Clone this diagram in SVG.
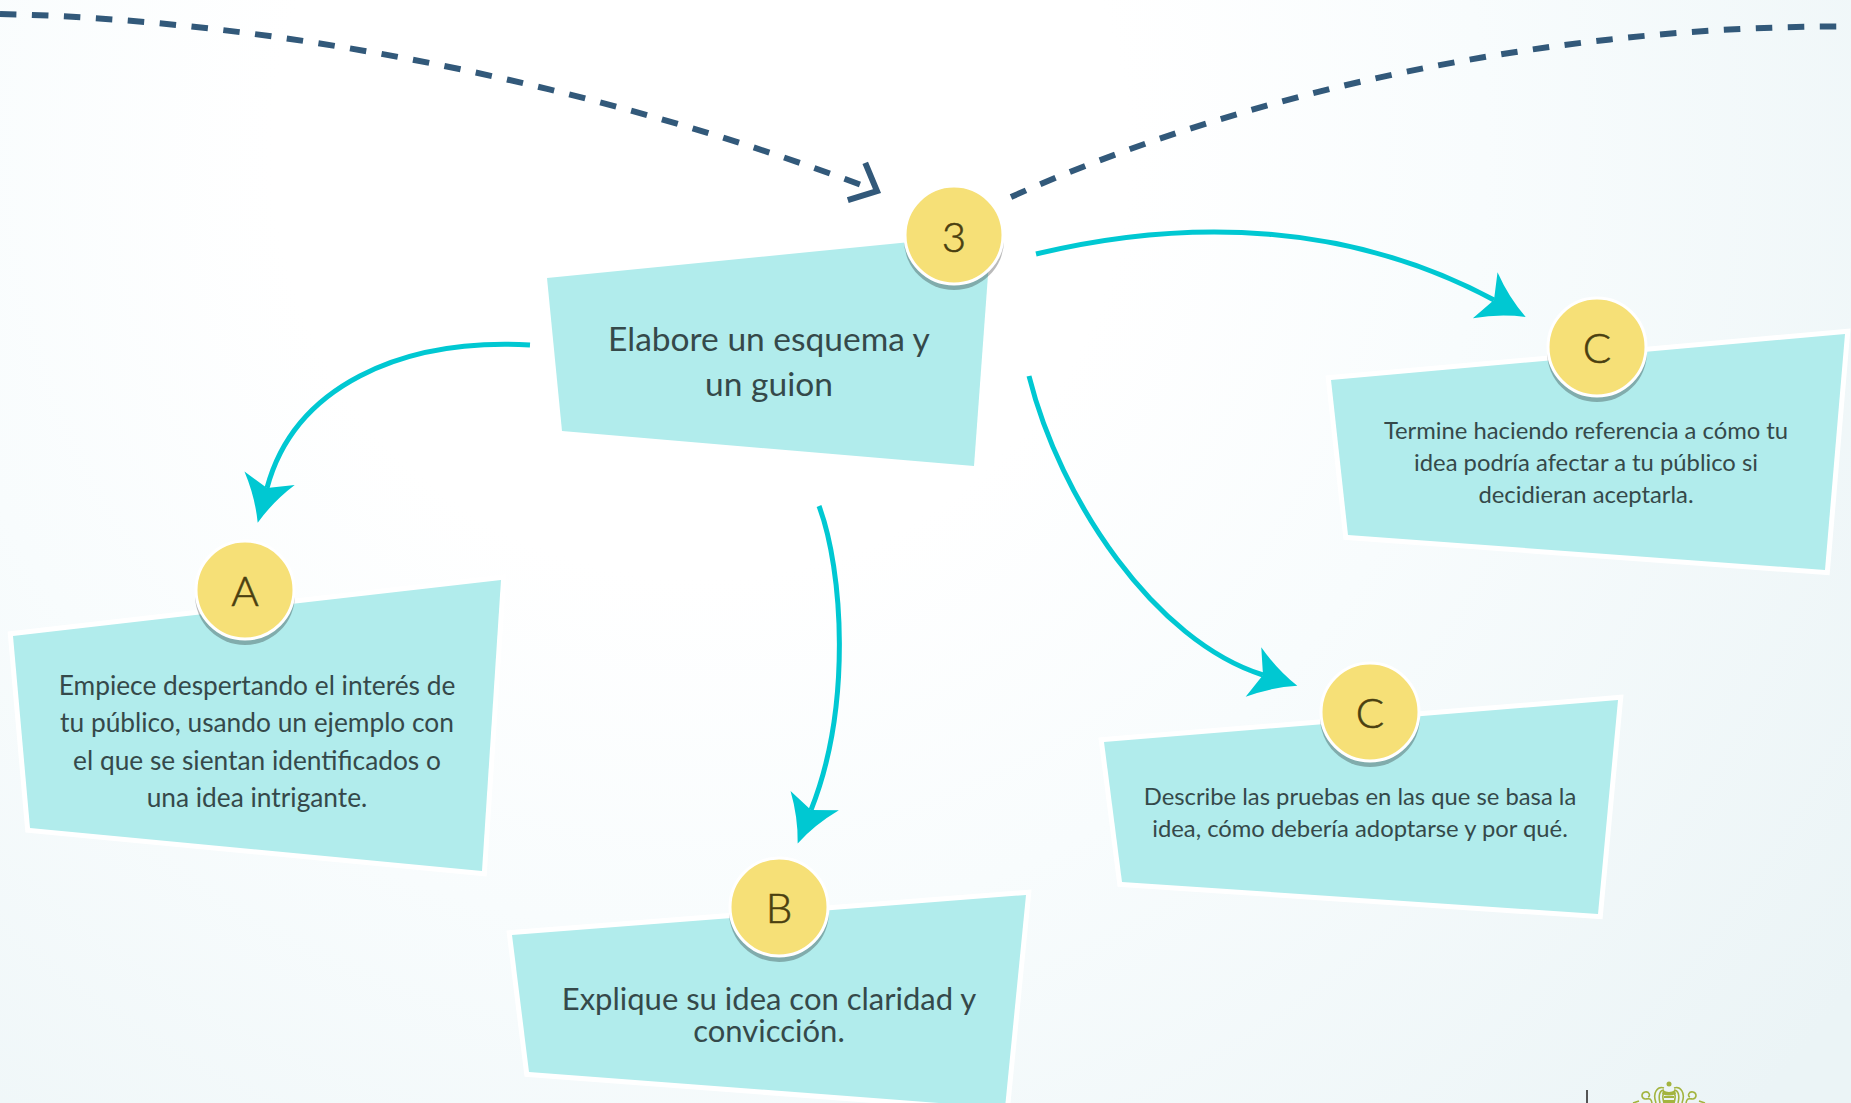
<svg xmlns="http://www.w3.org/2000/svg" width="1851" height="1103" viewBox="0 0 1851 1103">
<style>
.box{fill:#b1ecec;stroke:#fff;stroke-width:10;paint-order:stroke;stroke-linejoin:miter}
.shadow{fill:#000;fill-opacity:.27}
.disc{fill:#f6e077;stroke:#fff;stroke-width:3}
.letter{font-family:"Lato",sans-serif;font-weight:300;font-size:42px;fill:#4a3f10;stroke:#4a3f10;stroke-width:.6;text-anchor:middle}
.t{font-family:"Lato",sans-serif;fill:#35494a;text-anchor:middle}
.flow{fill:none;stroke:#00c8d2;stroke-width:5}
.dash{fill:none;stroke:#32597a;stroke-width:6;stroke-dasharray:16.5 15.5}
.logo{fill:none;stroke:#a3b43f;stroke-width:1.6}
.logofill{fill:#a3b43f}
</style>
<defs>
<radialGradient id="bg" gradientUnits="userSpaceOnUse" cx="700" cy="150" r="1425">
<stop offset="0.3" stop-color="#ffffff"/><stop offset="0.55" stop-color="#f8fcfd"/><stop offset="1" stop-color="#ebf4f6"/>
</radialGradient>
<marker id="head" markerUnits="userSpaceOnUse" markerWidth="60" markerHeight="60" viewBox="-15 -30 60 60" refX="0" refY="0" orient="auto" overflow="visible">
<path d="M36 0Q12 -9 -10 -26L0 0L-10 26Q12 9 36 0Z" fill="#00c8d2"/>
</marker>
<marker id="open" markerUnits="userSpaceOnUse" markerWidth="60" markerHeight="60" viewBox="-40 -30 60 60" refX="0" refY="0" orient="auto" overflow="visible">
<path d="M-21 -22L0 0L-24 19" fill="none" stroke="#32597a" stroke-width="6"/>
</marker>
</defs>
<rect id="background" width="1851" height="1103" fill="url(#bg)"/>
<g id="connectors">
<path class="dash" d="M0 14C280 20 600 85 877 191" marker-end="url(#open)"/>
<path class="dash" d="M1011 197C1250 90 1550 27 1837 26.5"/>
<path class="flow" d="M530 345C400 338 294 387 267 488" marker-end="url(#head)"/>
<path class="flow" d="M819 506C843 570 852 707 811 810" marker-end="url(#head)"/>
<path class="flow" d="M1029 376C1060 500 1155 641 1263 675" marker-end="url(#head)"/>
<path class="flow" d="M1036 254C1190 217 1351 223 1494 300" marker-end="url(#head)"/>
</g>
<g id="node-3">
<polygon class="box" style="stroke:none" points="547,278 991,234 974,466 562,431"/>
<text class="t" font-size="33.5" x="769" y="351">Elabore un esquema y</text>
<text class="t" font-size="33.5" x="769" y="396">un guion</text>
<circle class="shadow" cx="954" cy="240" r="50"/><circle class="disc" cx="954" cy="235" r="49"/>
<text class="letter" x="954" y="252">3</text>
</g>
<g id="node-a">
<polygon class="box" points="13,636 501,580 482,871 30,828"/>
<text class="t" font-size="26.3" x="257" y="695">Empiece despertando el interés de</text>
<text class="t" font-size="26.3" x="257" y="732">tu público, usando un ejemplo con</text>
<text class="t" font-size="26.3" x="257" y="770">el que se sientan identificados o</text>
<text class="t" font-size="26.3" x="257" y="807">una idea intrigante.</text>
<circle class="shadow" cx="245" cy="595" r="50"/><circle class="disc" cx="245" cy="590" r="49"/>
<text class="letter" x="245" y="606">A</text>
</g>
<g id="node-b">
<polygon class="box" points="512,935 1026,895 1005,1108 529,1072"/>
<text class="t" font-size="31" x="769" y="1010">Explique su idea con claridad y</text>
<text class="t" font-size="31" x="769" y="1042">convicción.</text>
<circle class="shadow" cx="779" cy="912" r="50"/><circle class="disc" cx="779" cy="907" r="49"/>
<text class="letter" x="779" y="923">B</text>
</g>
<g id="node-c1">
<polygon class="box" points="1104,742 1618,700 1598,914 1122,882"/>
<text class="t" font-size="23.8" x="1360" y="805">Describe las pruebas en las que se basa la</text>
<text class="t" font-size="23.8" x="1360" y="837">idea, cómo debería adoptarse y por qué.</text>
<circle class="shadow" cx="1370" cy="717" r="50"/><circle class="disc" cx="1370" cy="712" r="49"/>
<text class="letter" x="1370" y="728">C</text>
</g>
<g id="node-c2">
<polygon class="box" points="1331,380 1845,334 1825,570 1348,535"/>
<text class="t" font-size="23.8" x="1586" y="439">Termine haciendo referencia a cómo tu</text>
<text class="t" font-size="23.8" x="1586" y="471">idea podría afectar a tu público si</text>
<text class="t" font-size="23.8" x="1586" y="503">decidieran aceptarla.</text>
<circle class="shadow" cx="1597" cy="352" r="50"/><circle class="disc" cx="1597" cy="347" r="49"/>
<text class="letter" x="1597" y="363">C</text>
</g>
<g id="footer">
<rect x="1586" y="1090" width="2" height="13" fill="#555"/>
<circle class="logofill" cx="1669" cy="1084" r="2.5"/>
<path class="logofill" d="M1663 1090q6 4 12 0l1 4q-7 3 -14 0z"/>
<path class="logofill" d="M1664 1096h10v2h-10zM1664 1100h10v3h-10z"/>
<path class="logo" d="M1656 1103C1652 1092 1658 1086 1664 1088M1660 1103C1658 1095 1660 1090 1664 1090M1664 1094C1662 1094 1663 1100 1664 1103M1682 1103C1686 1092 1680 1086 1674 1088M1678 1103C1680 1095 1678 1090 1674 1090M1674 1094C1676 1094 1675 1100 1674 1103"/>
<path class="logo" d="M1652 1103C1651 1097 1648 1099 1645 1099C1641 1098 1641 1093 1645 1092C1649 1091 1651 1096 1648 1097M1686 1103C1687 1097 1690 1099 1693 1099C1697 1098 1697 1093 1693 1092C1689 1091 1687 1096 1690 1097"/>
<path class="logo" d="M1633 1103L1639 1101M1705 1103L1699 1101"/>
</g>
</svg>
